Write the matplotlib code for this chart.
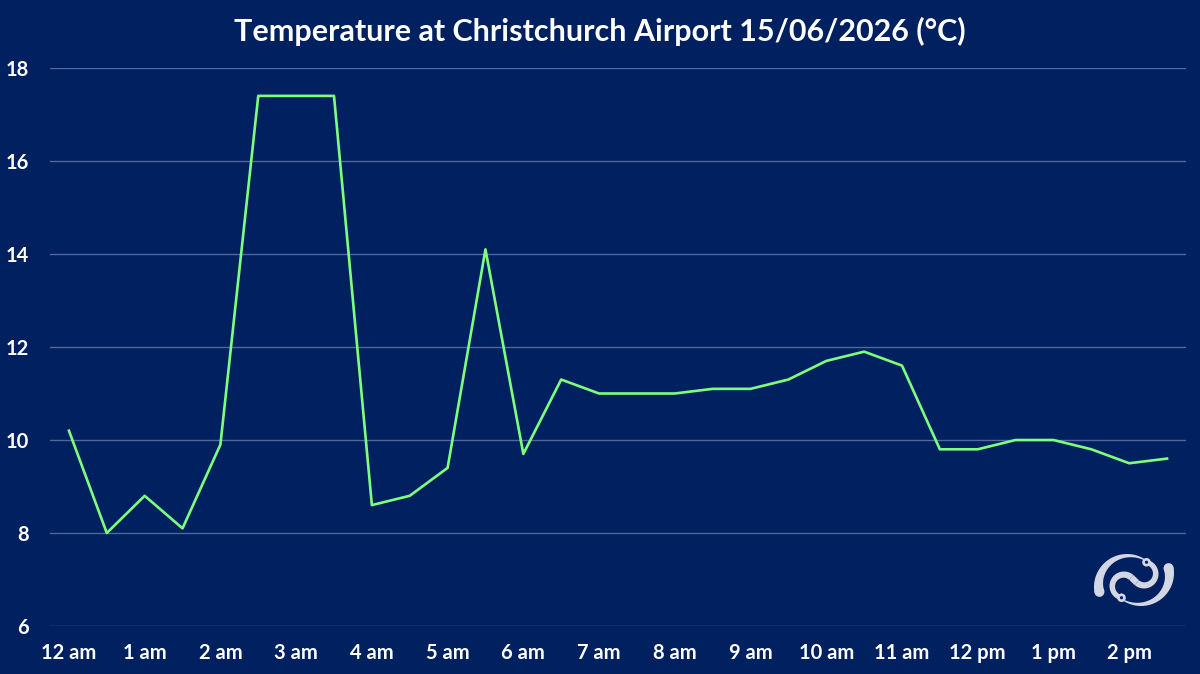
import numpy as np
import matplotlib
matplotlib.use("Agg")
import matplotlib.pyplot as plt
from matplotlib.patches import Polygon, Circle

# ---- data ----
hours = [0, 0.5, 1, 1.5, 2, 2.5, 3, 3.5, 4, 4.5, 5, 5.5, 6, 6.5, 7, 7.5, 8, 8.5,
         9, 9.5, 10, 10.5, 11, 11.5, 12, 12.5, 13, 13.5, 14, 14.5]
temps = [10.2, 8.0, 8.8, 8.1, 9.9, 17.4, 17.4, 17.4, 8.6, 8.8, 9.4, 14.1, 9.7, 11.3,
         11.0, 11.0, 11.0, 11.1, 11.1, 11.3, 11.7, 11.9, 11.6, 9.8, 9.8, 10.0, 10.0,
         9.8, 9.5, 9.6]
tick_hours = list(range(15))
tick_labels = ["12 am", "1 am", "2 am", "3 am", "4 am", "5 am", "6 am", "7 am",
               "8 am", "9 am", "10 am", "11 am", "12 pm", "1 pm", "2 pm"]
y_ticks = [6, 8, 10, 12, 14, 16, 18]
title = "Temperature at Christchurch Airport 15/06/2026 (°C)"

BG = "#002060"
GRID = "#52679A"
LINE = "#7DFF7D"
TXT = "white"
FONT = ["Lato", "DejaVu Sans"]

plt.rcParams["font.family"] = FONT

fig = plt.figure(figsize=(12, 6.74), dpi=100, facecolor=BG)
W, H = 1200, 674
ax = fig.add_axes([50 / W, 1 - 626 / H, (1186 - 50) / W, (626 - 68) / H])
ax.set_facecolor(BG)

ax.plot(hours, temps, color=LINE, lw=1.9, zorder=3)

ax.set_xlim(-0.25, 14.75)
ax.set_ylim(6, 18)
ax.set_yticks(y_ticks)
ax.set_yticklabels([str(v) for v in y_ticks])
ax.set_xticks(tick_hours)
ax.set_xticklabels(tick_labels)
ax.grid(axis="y", color=GRID, lw=1.0, zorder=1)
ax.grid(axis="x", visible=False)
for s in ax.spines.values():
    s.set_visible(False)
ax.tick_params(axis="both", length=0, colors=TXT, labelsize=14.5)
ax.tick_params(axis="x", pad=12)
ax.tick_params(axis="y", pad=15)
for lab in ax.get_xticklabels() + ax.get_yticklabels():
    lab.set_fontweight("bold")

fig.text(0.5, 1 - 31 / H, title, ha="center", va="center", color=TXT,
         fontsize=22, fontweight="bold")

# ---- logo (decorative) ----
lx0, ly0, lw, lh = 1088, 552, 92, 56
lax = fig.add_axes([lx0 / W, 1 - (ly0 + lh) / H, lw / W, lh / H])
lax.set_xlim(-46, 46)
lax.set_ylim(-28, 28)
lax.axis("off")
LOGO = "#D3D7E3"


def crescent(cx, cy, r, a0, a1, w0, w1, n=80):
    t = np.linspace(np.radians(a0), np.radians(a1), n)
    w = np.linspace(w0, w1, n)
    outer = np.column_stack([cx + r * np.cos(t), cy + r * np.sin(t)])
    inner = np.column_stack([cx + (r - w) * np.cos(t), cy + (r - w) * np.sin(t)])
    return np.vstack([outer, inner[::-1]])


def add(poly):
    lax.add_patch(Polygon(poly, closed=True, fc=LOGO, ec="none"))
    lax.add_patch(Polygon(-poly, closed=True, fc=LOGO, ec="none"))


# outer crescent with rounded thick end
ocx, ocy, orr, ow = -7, -7, 33, 10.0
add(crescent(ocx, ocy, orr, 190, 42, ow, 0.3))
a = np.radians(190)
cap = np.array([ocx + (orr - ow / 2) * np.cos(a), ocy + (orr - ow / 2) * np.sin(a)])
for c in (cap, -cap):
    lax.add_patch(Circle(c, ow / 2, fc=LOGO, ec="none"))

# inner hook + S band through centre
icx, icy, ir, iw = -10, -6, 14.5, 6.5
add(crescent(icx, icy, ir, 50, 258, iw, 5.0))
b = np.radians(50)
p_out = np.array([icx + ir * np.cos(b), icy + ir * np.sin(b)])
p_in = np.array([icx + (ir - iw) * np.cos(b), icy + (ir - iw) * np.sin(b)])
band = np.array([p_out, -p_in, -p_out, p_in])
lax.add_patch(Polygon(band, closed=True, fc=LOGO, ec="none"))

# koru loops at hook ends
e = np.radians(258)
kc = np.array([icx + (ir - 2.5) * np.cos(e), icy + (ir - 2.5) * np.sin(e)])
for c in (kc, -kc):
    lax.add_patch(Circle(c, 4.3, fc=LOGO, ec="none"))
    lax.add_patch(Circle(c, 1.6, fc=BG, ec="none"))

fig.savefig("out.png", dpi=100, facecolor=BG)
